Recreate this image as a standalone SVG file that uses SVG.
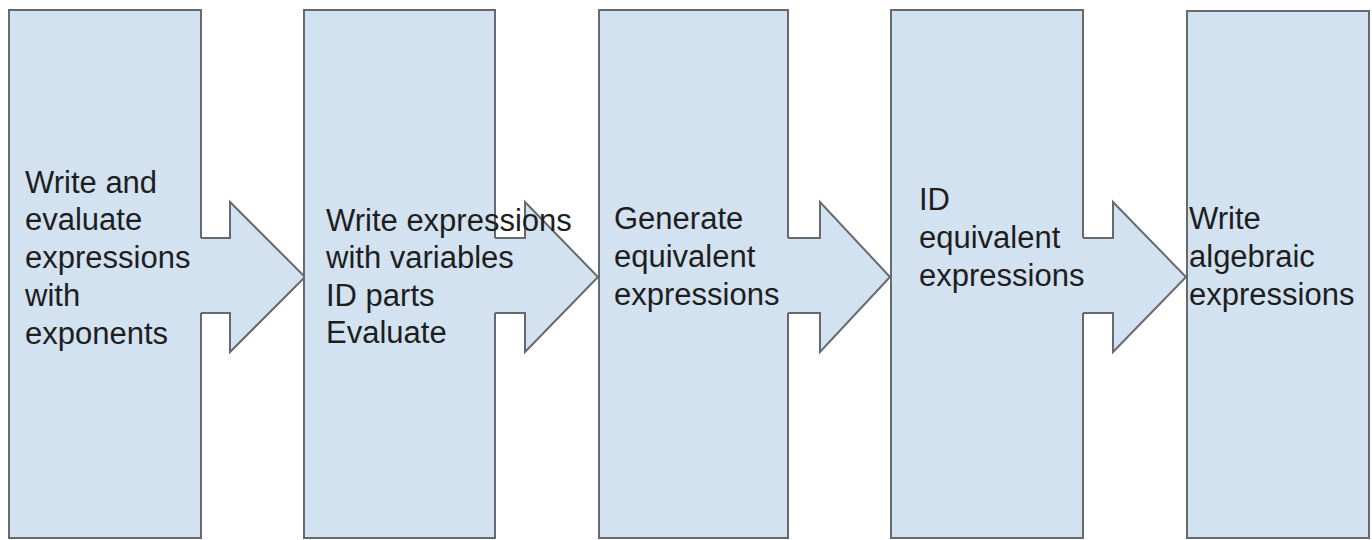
<svg xmlns="http://www.w3.org/2000/svg" width="1372" height="540" viewBox="0 0 1372 540">
<style>
.fill{fill:#d3e2f1;stroke:none}
.edge{fill:none;stroke:#666a6e;stroke-width:2;stroke-linejoin:miter}
.arrow{fill:#d3e2f1;stroke:#666a6e;stroke-width:2;stroke-linejoin:miter}
text{font-family:"Liberation Sans",Arial,sans-serif;font-size:31px;fill:#1e1e1e}
</style>
<rect width="1372" height="540" fill="#fff"/>
<g id="connectors">
<path class="arrow" d="M201,238 H230 V202 L305,277 L230,352 V313 H201"/>
<path class="arrow" d="M495,238 H525 V202 L598,277 L525,352 V313 H495"/>
<path class="arrow" d="M788,238 H820 V202 L890,277 L820,352 V313 H788"/>
<path class="arrow" d="M1083,238 H1113 V202 L1186,277 L1113,352 V313 H1083"/>
</g>
<g id="node1">
<rect class="fill" x="9" y="10" width="192" height="528"/>
<path class="edge" d="M201,238 V10 H9 V538 H201 V313"/>
<text x="25" y="193">Write and</text>
<text x="25" y="230">evaluate</text>
<text x="25" y="268">expressions</text>
<text x="25" y="306">with</text>
<text x="25" y="344">exponents</text>
</g>
<g id="node2">
<rect class="fill" x="304" y="10" width="191" height="528"/>
<path class="edge" d="M495,238 V10 H304 V538 H495 V313"/>
<text x="326" y="231">Write expressions</text>
<text x="326" y="268">with variables</text>
<text x="326" y="306">ID parts</text>
<text x="326" y="343">Evaluate</text>
</g>
<g id="node3">
<rect class="fill" x="599" y="10" width="189" height="528"/>
<path class="edge" d="M788,238 V10 H599 V538 H788 V313"/>
<text x="614" y="229">Generate</text>
<text x="614" y="267">equivalent</text>
<text x="614" y="305">expressions</text>
</g>
<g id="node4">
<rect class="fill" x="891" y="10" width="192" height="528"/>
<path class="edge" d="M1083,238 V10 H891 V538 H1083 V313"/>
<text x="919" y="210">ID</text>
<text x="919" y="248">equivalent</text>
<text x="919" y="286">expressions</text>
</g>
<g id="node5">
<rect class="fill" x="1187" y="11" width="182" height="527"/>
<path class="edge" d="M1187,11 H1369 V538 H1187 Z"/>
<text x="1189" y="229">Write</text>
<text x="1189" y="267">algebraic</text>
<text x="1189" y="305">expressions</text>
</g>
</svg>
